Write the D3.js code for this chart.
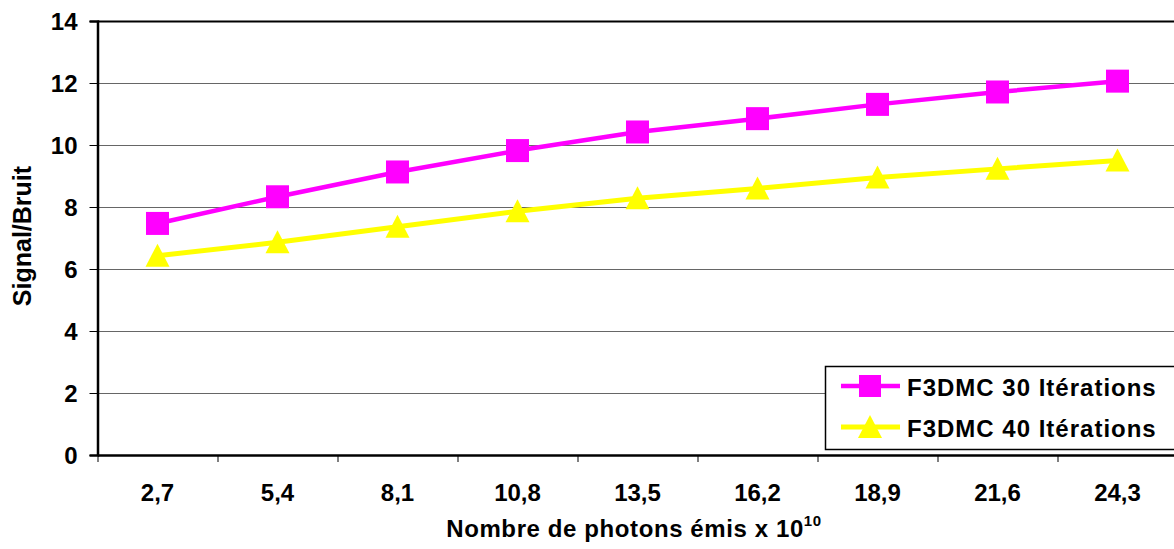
<!DOCTYPE html>
<html><head><meta charset="utf-8">
<script src="https://cdn.jsdelivr.net/npm/d3@7"></script>
<style>body{margin:0;background:#fff}svg{display:block}text{font-family:"Liberation Sans",Arial,sans-serif;font-weight:bold}</style>
</head><body>
<svg id="c" width="1174" height="549"></svg>
<script>
const categories = ["2,7","5,4","8,1","10,8","13,5","16,2","18,9","21,6","24,3"];
const series30 = [7.47, 8.33, 9.13, 9.82, 10.42, 10.85, 11.31, 11.71, 12.06];
const series40 = [6.43, 6.86, 7.36, 7.86, 8.28, 8.6, 8.95, 9.23, 9.5];
const yTicks = [0,2,4,6,8,10,12,14];
const seriesNames = ["F3DMC 30 Itérations","F3DMC 40 Itérations"];

const svg = d3.select("#c");
const L = 97.5, R = 1177.5, T = 21, B = 455;
const x = d3.scaleBand().domain(categories).range([L, R]);
const y = d3.scaleLinear().domain([0,14]).range([B, T]);

// gridlines
svg.append("g").selectAll("line").data(yTicks.filter(d=>d>0)).join("line")
  .attr("x1", L).attr("x2", R).attr("y1", d=>Math.round(y(d))+0.5).attr("y2", d=>Math.round(y(d))+0.5)
  .attr("stroke", d=>d===14?"#000":"#666").attr("stroke-width", d=>d===14?2:1.2);

// y axis
const ya = svg.append("g").attr("transform",`translate(${L},0)`)
  .call(d3.axisLeft(y).tickValues(yTicks).tickSize(8).tickPadding(12));
ya.attr("font-family",null).attr("font-size",null);
ya.select(".domain").attr("stroke","#000").attr("stroke-width",2.5);
ya.selectAll(".tick line").attr("stroke","#000").attr("stroke-width",1);
ya.selectAll(".tick text").attr("font-size",24).attr("font-weight","bold").attr("fill","#000").attr("dy","0.36em");

// x axis
const xa = svg.append("g").attr("transform",`translate(0,${B})`)
  .call(d3.axisBottom(x).tickSize(0).tickPadding(29));
xa.attr("font-family",null).attr("font-size",null);
xa.select(".domain").attr("stroke","#000").attr("stroke-width",2.5);
xa.selectAll(".tick text").attr("font-size",24).attr("font-weight","bold").attr("fill","#000");
// category boundary ticks
svg.append("g").selectAll("line").data(categories).join("line")
  .attr("x1", d=>x(d)+0.5).attr("x2", d=>x(d)+0.5).attr("y1", B).attr("y2", B+7)
  .attr("stroke","#000").attr("stroke-width",1);

const line = d3.line().x((d,i)=>x(categories[i])+x.bandwidth()/2).y(d=>y(d));

// series 40 (yellow)
svg.append("path").datum(series40).attr("d", line).attr("fill","none").attr("stroke","#FFFF00").attr("stroke-width",5);
svg.append("g").selectAll("path").data(series40).join("path")
  .attr("transform",(d,i)=>`translate(${x(categories[i])+x.bandwidth()/2},${y(d)})`)
  .attr("d","M0,-12 L12,11 L-12,11 Z").attr("fill","#FFFF00");

// series 30 (magenta)
svg.append("path").datum(series30).attr("d", line).attr("fill","none").attr("stroke","#FF00FF").attr("stroke-width",4.5);
svg.append("g").selectAll("rect").data(series30).join("rect")
  .attr("x",(d,i)=>x(categories[i])+x.bandwidth()/2-11.5).attr("y",d=>y(d)-11.5)
  .attr("width",23).attr("height",23).attr("fill","#FF00FF");

// legend
const lg = svg.append("g");
lg.append("rect").attr("x",825.5).attr("y",366.5).attr("width",360).attr("height",83).attr("fill","#fff").attr("stroke","#000").attr("stroke-width",1.5);
const rows = [{name:seriesNames[0], c:"#FF00FF", m:"sq", yy:386},{name:seriesNames[1], c:"#FFFF00", m:"tri", yy:427}];
rows.forEach(r=>{
  lg.append("line").attr("x1",841).attr("x2",900).attr("y1",r.yy).attr("y2",r.yy).attr("stroke",r.c).attr("stroke-width",r.m==="sq"?4.5:5);
  if(r.m==="sq") lg.append("rect").attr("x",859).attr("y",r.yy-11).attr("width",22).attr("height",22).attr("fill",r.c);
  else lg.append("path").attr("transform",`translate(870,${r.yy})`).attr("d","M0,-12 L12,11 L-12,11 Z").attr("fill",r.c);
  lg.append("text").attr("x",907).attr("y",r.yy+9.5).attr("font-size",24).attr("letter-spacing",1).attr("font-weight","bold").attr("fill","#000").text(r.name);
});

// axis titles
svg.append("text").attr("transform","translate(31,236) rotate(-90)").attr("text-anchor","middle").attr("font-size",25).attr("font-weight","bold").attr("fill","#000").text("Signal/Bruit");
const xt = svg.append("text").attr("x",634).attr("y",537).attr("text-anchor","middle").attr("font-size",24).attr("letter-spacing",0.6).attr("font-weight","bold").attr("fill","#000");
xt.append("tspan").text("Nombre de photons émis x 10");
xt.append("tspan").attr("font-size",15).attr("dy",-11).text("10");
</script>
</body></html>
